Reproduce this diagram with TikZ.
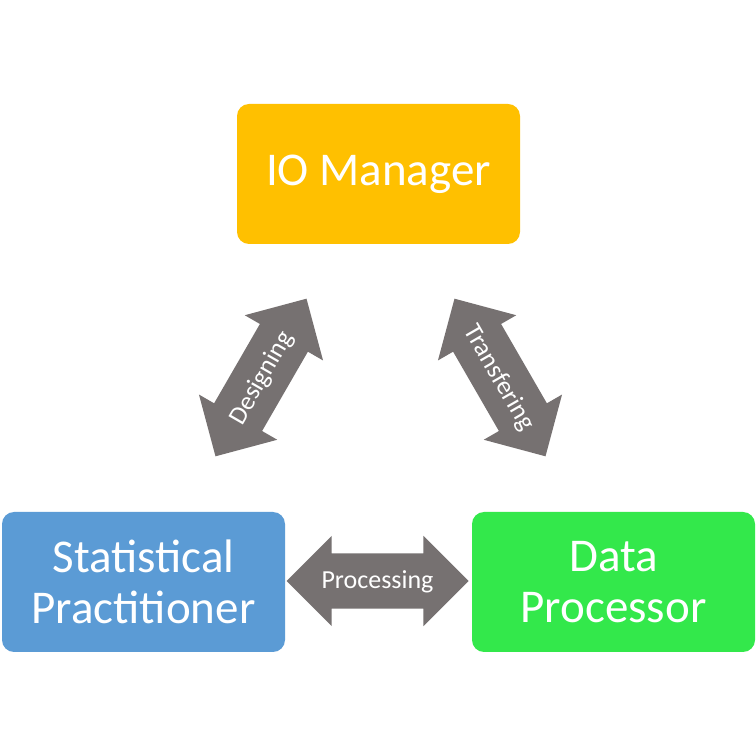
\documentclass[tikz,border=0pt]{standalone}
\usepackage{fontspec}
\setmainfont{Carlito}
\usetikzlibrary{shapes.arrows}
\definecolor{ioorange}{HTML}{FFC000}
\definecolor{spblue}{HTML}{5B9BD5}
\definecolor{dpgreen}{HTML}{33E84B}
\definecolor{arrgray}{HTML}{767171}
\tikzset{
  rolebox/.style={rounded corners=12pt, minimum width=283pt, minimum height=140pt,
    inner sep=0pt, text=white, align=center,
    font=\fontsize{47}{51}\selectfont},
  blockarrow/.style={double arrow, fill=arrgray, draw=none, text=white,
    minimum height=182pt, double arrow head extend=17.5pt, double arrow tip angle=90,
    text height=23.5pt, text depth=7.5pt, inner xsep=4pt, inner ysep=12pt,
    font=\fontsize{26}{29}\selectfont}
}
\begin{document}
\begin{tikzpicture}[x=1pt,y=1pt]
\useasboundingbox (0,0) rectangle (756,756);
\fill[white] (0,0) rectangle (756,756);
\node[rolebox, fill=ioorange] (io) at (378.5,582) {IO Manager};
\node[rolebox, fill=spblue] (sp) at (143.5,174) {Statistical\\Practitioner};
\node[rolebox, fill=dpgreen] (dp) at (613.5,174) {Data\\Processor};
\node[blockarrow] (proc) at (377.5,175) {Processing};
\node[blockarrow, rotate=60] (des) at (261,378.5) {Designing};
\node[blockarrow, rotate=-60] (tra) at (500,378.5) {Transfering};
\end{tikzpicture}
\end{document}
